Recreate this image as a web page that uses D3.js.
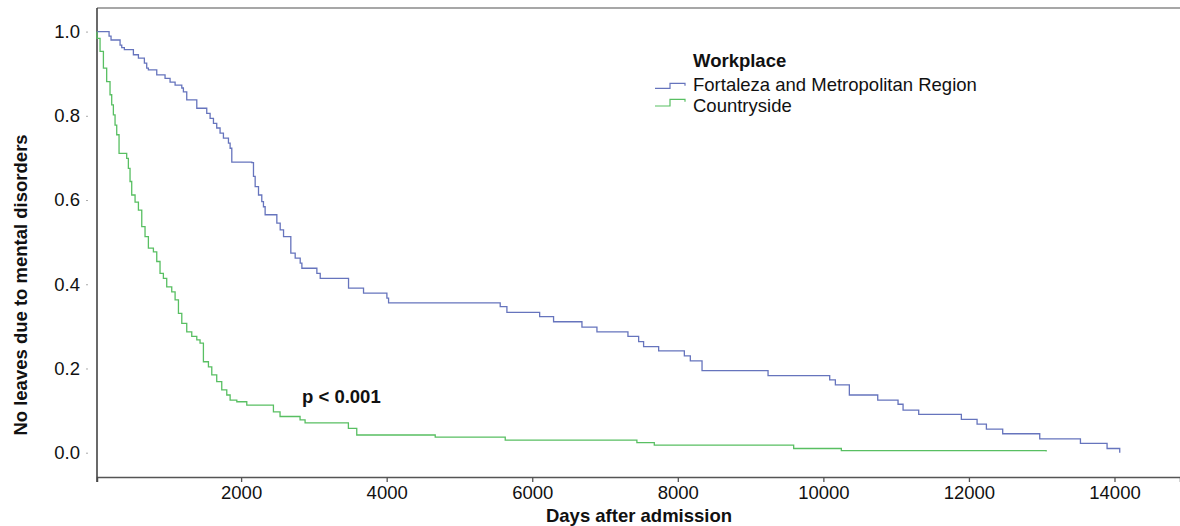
<!DOCTYPE html>
<html>
<head>
<meta charset="utf-8">
<script src="https://cdn.jsdelivr.net/npm/d3@7"></script>
<style>
  body { margin: 0; background: #fff; }
  text { font-family: "Liberation Sans", Arial, sans-serif; fill: #111; }
</style>
</head>
<body>
<svg id="chart"></svg>
<script>
// Kaplan-Meier step points (day, survival)
const metroDays = [0, 186, 213, 337, 360, 396, 520, 589, 671, 703, 726, 841, 955, 1024, 1093, 1185, 1207, 1253, 1391, 1528, 1574, 1620, 1665, 1711, 1757, 1826, 1849, 1872,
  2147, 2170, 2193, 2239, 2284, 2307, 2330, 2491, 2537, 2583, 2683, 2743, 2812, 2835, 3041, 3087, 3476, 3682, 4003, 4026,
  5560, 5652, 6102, 6293, 6683, 6889, 7315, 7462, 7530, 7737, 8090, 8172, 8333, 9240,
  10087, 10165, 10357, 10747, 11026, 11095, 11310, 11896, 12112, 12240, 12464, 12973, 13532, 13898, 14072];
const metroSurv = [1.0, 0.989, 0.980, 0.968, 0.962, 0.957, 0.945, 0.937, 0.925, 0.913, 0.909, 0.897, 0.889, 0.880, 0.873, 0.866, 0.857, 0.838, 0.818, 0.806, 0.794, 0.782, 0.771, 0.759, 0.747, 0.735, 0.723, 0.690,
  0.689, 0.656, 0.632, 0.612, 0.596, 0.584, 0.565, 0.545, 0.529, 0.513, 0.474, 0.462, 0.450, 0.438, 0.426, 0.414, 0.391, 0.379, 0.367, 0.356,
  0.347, 0.333, 0.323, 0.311, 0.298, 0.287, 0.276, 0.264, 0.252, 0.242, 0.230, 0.218, 0.195, 0.183,
  0.173, 0.161, 0.137, 0.125, 0.115, 0.101, 0.091, 0.079, 0.068, 0.056, 0.045, 0.033, 0.022, 0.010, 0.0];

const countryDays = [0, 16, 62, 108, 153, 199, 222, 245, 268, 291, 323, 428, 451, 474, 497, 543, 589, 635, 680, 726, 795, 841, 886, 932, 978, 1047, 1093, 1139, 1185, 1253, 1322, 1391, 1436,
  1482, 1551, 1597, 1665, 1734, 1803, 1849, 1941, 2078, 2444, 2535, 2810, 2879, 3474, 3589,
  4667, 5629, 7438, 7677, 9592, 10247, 13061];
const countrySurv = [1.0, 0.984, 0.953, 0.913, 0.881, 0.850, 0.826, 0.802, 0.778, 0.755, 0.711, 0.699, 0.675, 0.644, 0.612, 0.595, 0.576, 0.537, 0.513, 0.486, 0.477, 0.454, 0.426, 0.414, 0.394, 0.382, 0.363, 0.331, 0.307, 0.287, 0.276, 0.268, 0.260,
  0.216, 0.204, 0.185, 0.169, 0.149, 0.137, 0.125, 0.121, 0.113, 0.097, 0.086, 0.078, 0.071, 0.058, 0.042,
  0.037, 0.030, 0.024, 0.018, 0.010, 0.005, 0.003];

const seriesNames = ["Fortaleza and Metropolitan Region", "Countryside"];
const seriesColors = ["#6674bd", "#58bf62"];
const xTicks = [2000, 4000, 6000, 8000, 10000, 12000, 14000];
const yTicks = [0, 0.2, 0.4, 0.6, 0.8, 1.0];

const w = 1180, h = 526;
const plotLeft = 97, plotRight = 1180, plotTop = 8, plotBottom = 477;
const fontSize = "18.5px";

const svg = d3.select("#chart").attr("width", w).attr("height", h);

const xScale = d3.scaleLinear().domain([20, 14900]).range([plotLeft, plotRight]).clamp(true);
const yScale = d3.scaleLinear().domain([-0.0577, 1.056]).range([plotBottom, plotTop]);

// frame: top border
svg.append("line")
  .attr("x1", plotLeft).attr("x2", plotRight).attr("y1", plotTop).attr("y2", plotTop)
  .attr("stroke", "#8a8a8a").attr("stroke-width", 1.5);

const xAxis = d3.axisBottom(xScale).tickValues(xTicks).tickSize(5).tickPadding(4).tickFormat(d3.format("d"));
const gx = svg.append("g").attr("transform", `translate(0,${plotBottom})`).call(xAxis);
gx.select(".domain").attr("stroke", "#555").attr("stroke-width", 1.5);
gx.selectAll(".tick line").attr("stroke", "#555").attr("stroke-width", 1.3);
gx.selectAll(".tick text").style("font-size", fontSize).attr("fill", "#111");

const yAxis = d3.axisLeft(yScale).tickValues(yTicks).tickSize(0).tickPadding(17).tickFormat(d3.format(".1f"));
const gy = svg.append("g").attr("transform", `translate(${plotLeft},0)`).call(yAxis);
gy.select(".domain").remove();
gy.selectAll(".tick text").style("font-size", fontSize).attr("fill", "#111");
gy.selectAll(".tick").append("line")
  .attr("x1", -11).attr("x2", -9).attr("stroke", "#aaa");
svg.append("line")
  .attr("x1", plotLeft).attr("x2", plotLeft).attr("y1", plotTop).attr("y2", plotBottom + 5)
  .attr("stroke", "#444").attr("stroke-width", 1.6);

// survival curves
const stepLine = d3.line()
  .x(d => xScale(d[0]))
  .y(d => yScale(d[1]))
  .curve(d3.curveStepAfter);

const curves = [
  d3.zip(metroDays, metroSurv),
  d3.zip(countryDays, countrySurv)
];

svg.selectAll(".km")
  .data(curves)
  .join("path")
  .attr("class", "km")
  .attr("d", d => stepLine(d))
  .attr("fill", "none")
  .attr("stroke", (d, i) => seriesColors[i])
  .attr("stroke-width", 1.3);

// axis titles
svg.append("text")
  .attr("x", 639).attr("y", 521.5)
  .attr("text-anchor", "middle")
  .style("font-size", fontSize).style("font-weight", "bold")
  .text("Days after admission");

svg.append("text")
  .attr("transform", "translate(27,285) rotate(-90)")
  .attr("text-anchor", "middle")
  .style("font-size", fontSize).style("font-weight", "bold")
  .text("No leaves due to mental disorders");

svg.append("text")
  .attr("x", 302).attr("y", 403)
  .style("font-size", fontSize).style("font-weight", "bold")
  .text("p < 0.001");

// legend
const legend = svg.append("g").attr("transform", "translate(693,0)");
legend.append("text")
  .attr("x", 0).attr("y", 66.7)
  .style("font-size", fontSize).style("font-weight", "bold")
  .text("Workplace");

const legendBase = [91, 111.7];
seriesNames.forEach((name, i) => {
  const b = legendBase[i];
  const low = i === 0 ? b - 2.7 : b - 5.7;
  const high = i === 0 ? b - 7.7 : b - 12.4;
  legend.append("path")
    .attr("d", `M-38,${low}H-23V${high}H-8V${high + 2.5}`)
    .attr("fill", "none")
    .attr("stroke", seriesColors[i])
    .attr("stroke-width", 1.2);
  legend.append("text")
    .attr("x", 0).attr("y", b)
    .style("font-size", fontSize)
    .text(name);
});
</script>
</body>
</html>
